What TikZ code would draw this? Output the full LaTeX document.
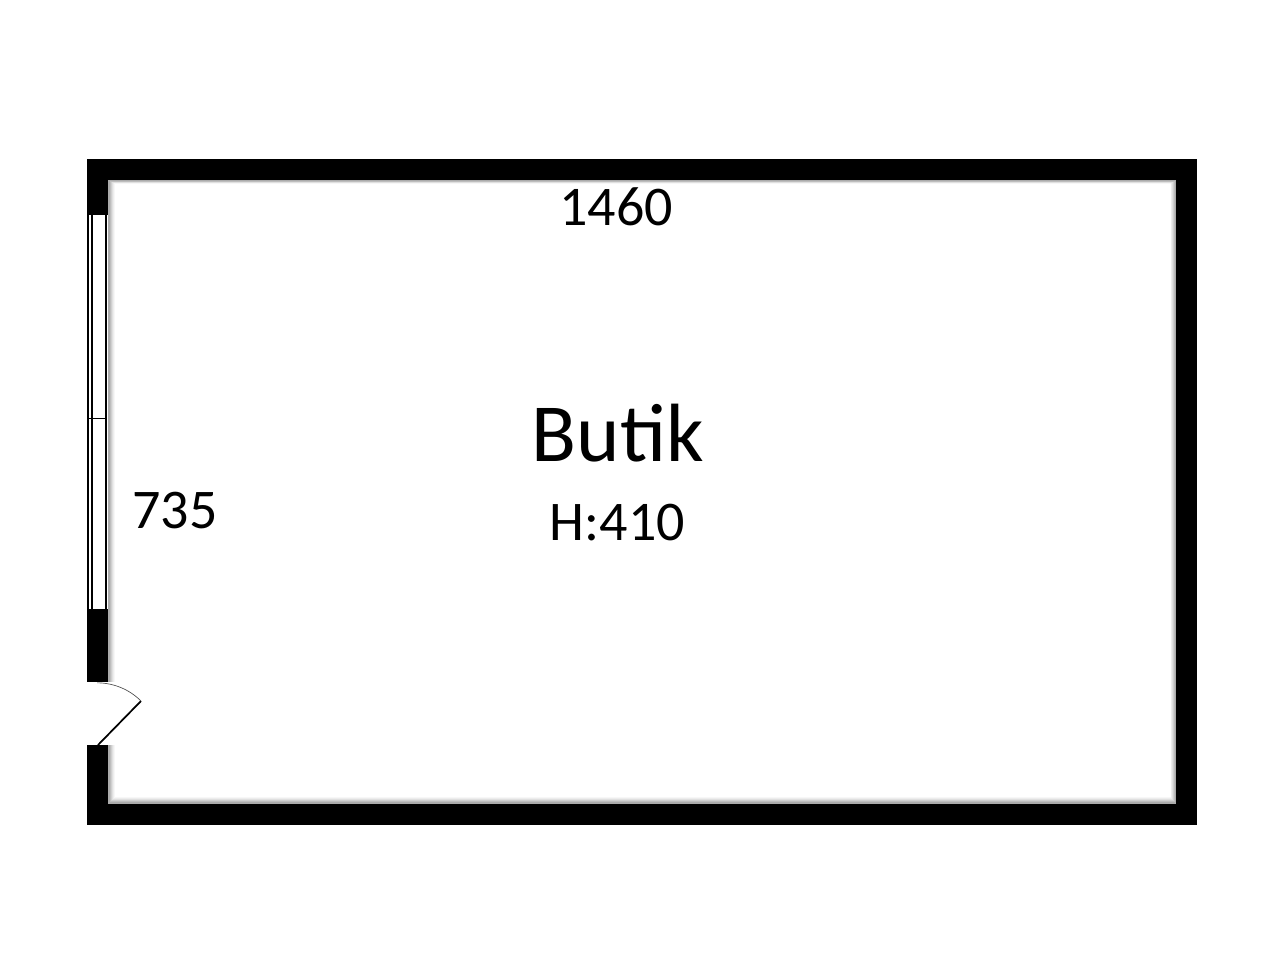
\documentclass[tikz,border=0pt]{standalone}
\usepackage{fontspec}
\setmainfont{Carlito}
\tikzset{
  wall/.style={fill=black,draw=none},
  pane/.style={line width=1.1pt,draw=black},
  bigtext/.style={font={\fontsize{62pt}{62pt}\selectfont}},
  smalltext/.style={font={\fontsize{42pt}{42pt}\selectfont}}
}
\begin{document}
\begin{tikzpicture}[x=0.75pt,y=-0.75pt]
  \useasboundingbox (0,0) rectangle (1280,960);
  %inner shadow
  \foreach \d/\c in {6/gray!6,5/gray!14,4/gray!24,3/gray!38,2/gray!52,1/gray!66}
    \draw[line width=0.8pt,\c] (108+\d,682) -- (108+\d,180+0.5*\d) -- (1176-0.8*\d,180+0.5*\d) -- (1176-0.8*\d,804-\d) -- (108+\d,804-\d) -- (108+\d,745);
  %walls
  \fill[wall] (87,159) rectangle (1197,180);
  \fill[wall] (87,804) rectangle (1197,825);
  \fill[wall] (1176,159) rectangle (1197,825);
  \fill[wall] (87,159) rectangle (108,215);
  \fill[wall] (87,609) rectangle (108,682);
  \fill[wall] (87,745) rectangle (108,825);
  %window
  \draw[pane] (88,215) -- (88,609);
  \draw[pane] (92,215) -- (92,609);
  \draw[pane] (106,215) -- (106,609);
  \draw[line width=0.4pt] (88,418) -- (106,418);
  %door
  \coordinate (hinge) at (98,745);
  \coordinate (leaf) at (141,701);
  \draw[line width=1.3pt] (hinge) -- (leaf);
  \draw[line width=0.5pt,black!70] (leaf) arc[start angle=-45,end angle=-90,radius=62];
  %labels
  \node[bigtext] (butik) at (618,433) {Butik};
  \node[smalltext] (height) at (617.5,523) {H:410};
  \node[smalltext] (width) at (616,206.5) {1460};
  \node[smalltext] (depth) at (175,511) {735};
\end{tikzpicture}
\end{document}
